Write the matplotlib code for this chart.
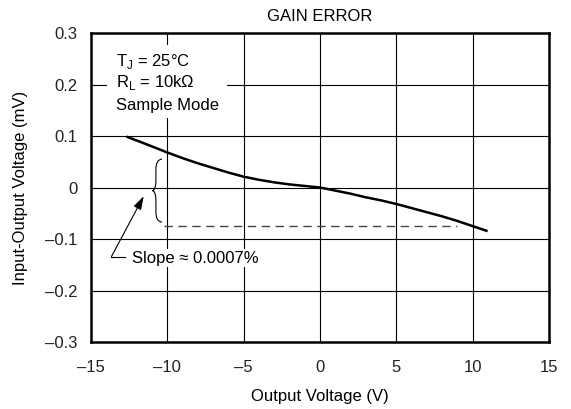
import matplotlib
matplotlib.use("Agg")
import matplotlib.pyplot as plt
from matplotlib.path import Path
from matplotlib.patches import PathPatch, Rectangle

plt.rcParams['font.family'] = ['Liberation Sans', 'DejaVu Sans']

# Data
output_v = [-12.6, -11.5, -10.0, -9.0, -8.0, -7.0, -6.0, -5.0, -4.0, -3.0, -2.0, -1.0, 0.0,
            1.0, 2.0, 3.0, 4.0, 5.0, 6.0, 7.0, 8.0, 9.0, 10.0, 10.9]
io_voltage = [0.098, 0.0855, 0.068, 0.057, 0.047, 0.038, 0.029, 0.021, 0.015, 0.010, 0.006,
              0.003, 0.0, -0.006, -0.012, -0.019, -0.025, -0.032, -0.040, -0.048, -0.056,
              -0.065, -0.075, -0.084]
dash_x = [-10.2, 9.0]
dash_y = [-0.074, -0.074]
x_ticks = [-15, -10, -5, 0, 5, 10, 15]
x_tick_labels = ['\u201315', '\u201310', '\u20135', '0', '5', '10', '15']
y_ticks = [-0.3, -0.2, -0.1, 0, 0.1, 0.2, 0.3]
y_tick_labels = ['\u20130.3', '\u20130.2', '\u20130.1', '0', '0.1', '0.2', '0.3']

FS = 12

fig = plt.figure(figsize=(5.71, 4.09), dpi=100)
ax = fig.add_axes([0.1594, 0.1638, 0.9615 - 0.1594, 0.9193 - 0.1638])
ax.set_xlim(-15, 15)
ax.set_ylim(-0.3, 0.3)
ax.set_xticks(x_ticks)
ax.set_xticklabels(x_tick_labels)
ax.set_yticks(y_ticks)
ax.set_yticklabels(y_tick_labels)
ax.tick_params(length=0, labelsize=FS, colors='#222222')
ax.tick_params(axis='x', pad=13)
ax.tick_params(axis='y', pad=10)
ax.grid(True, color='black', linewidth=0.8)
ax.set_axisbelow(True)
for s in ax.spines.values():
    s.set_linewidth(1.8)

ax.plot(output_v, io_voltage, color='black', linewidth=1.8, zorder=3)
ax.plot(dash_x, dash_y, color='#444444', linewidth=1.0, linestyle=(0, (6, 4)), zorder=3)

# white box behind conditions text
ax.add_patch(Rectangle((-13.95, 0.135), 7.85, 0.141, facecolor='white',
                       edgecolor='none', zorder=2))
ax.text(-13.35, 0.244, r'T$_\mathregular{J}$ = 25°C', fontsize=FS, va='center', zorder=4)
ax.text(-13.35, 0.203, r'R$_\mathregular{L}$ = 10kΩ', fontsize=FS, va='center', zorder=4)
ax.text(-13.35, 0.160, 'Sample Mode', fontsize=FS, va='center', zorder=4)

# brace
bx0, bx1 = -11.0, -10.35
ytop, ybot, ymid = 0.055, -0.067, -0.006
verts = [(bx1, ytop), (bx0 + 0.25, ytop), (bx0 + 0.25, ytop - 0.02),
         (bx0 + 0.25, ymid + 0.02), (bx0 + 0.25, ymid), (bx0, ymid),
         (bx0 + 0.25, ymid), (bx0 + 0.25, ymid - 0.02),
         (bx0 + 0.25, ybot + 0.02), (bx0 + 0.25, ybot), (bx1, ybot)]
codes = [Path.MOVETO, Path.CURVE3, Path.CURVE3, Path.LINETO, Path.CURVE3, Path.CURVE3,
         Path.CURVE3, Path.CURVE3, Path.LINETO, Path.CURVE3, Path.CURVE3]
ax.add_patch(PathPatch(Path(verts, codes), facecolor='none', edgecolor='black',
                       linewidth=0.8, zorder=3))

# arrow
ax.plot([-12.8, -13.66], [-0.134, -0.134], color='black', linewidth=0.8, zorder=3)
ax.annotate('', xy=(-11.55, -0.017), xytext=(-13.66, -0.134),
            arrowprops=dict(arrowstyle='-|>,head_length=0.8,head_width=0.25',
                            color='black', linewidth=0.8, shrinkA=0, shrinkB=0), zorder=3)
ax.text(-12.3, -0.137, 'Slope ≈ 0.0007%', fontsize=FS, va='center', zorder=4,
        bbox=dict(facecolor='white', edgecolor='none', pad=1))

ax.set_title('GAIN ERROR', fontsize=FS, pad=9)
ax.set_xlabel('Output Voltage (V)', fontsize=FS, labelpad=10)
ax.set_ylabel('Input-Output Voltage (mV)', fontsize=FS, labelpad=12)

fig.savefig('out.png', dpi=100)
